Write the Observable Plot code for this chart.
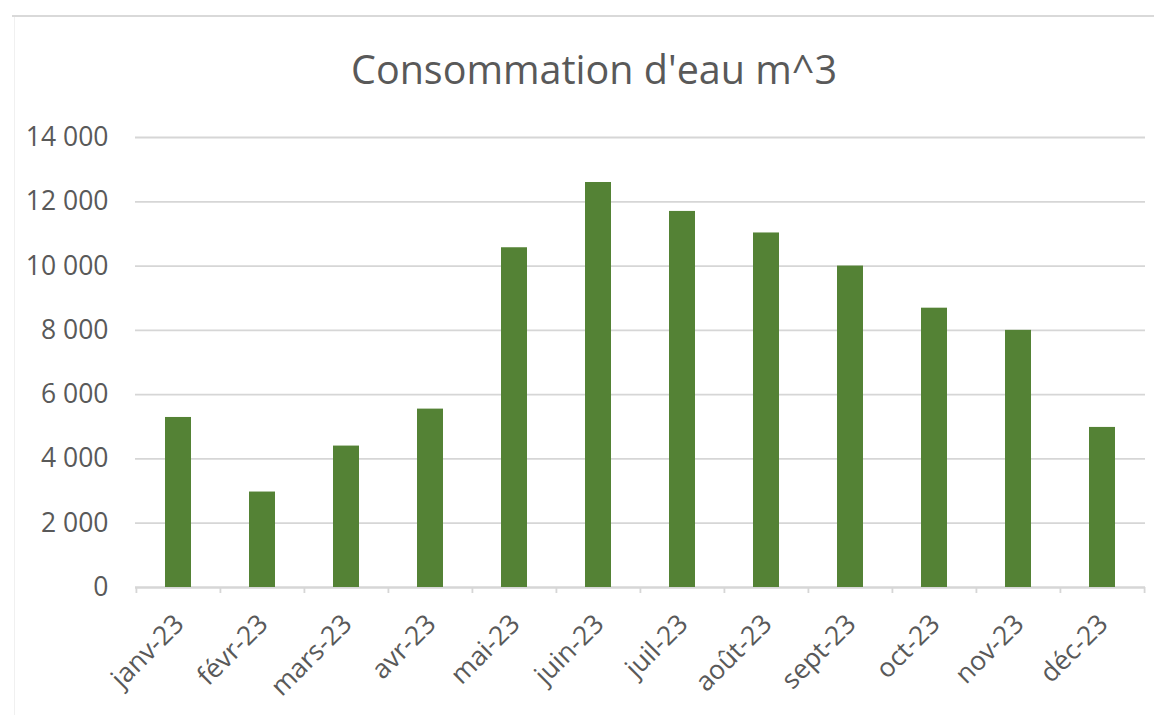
<!DOCTYPE html>
<html>
<head>
<meta charset="utf-8">
<script src="https://cdn.jsdelivr.net/npm/d3@7"></script>
<script src="https://cdn.jsdelivr.net/npm/@observablehq/plot@0.6"></script>
<style>
  html, body { margin: 0; padding: 0; background: #ffffff; }
  #wrap { position: relative; width: 1154px; height: 715px; overflow: hidden; background: #fff; }
  #header { position: relative; width: 1154px; height: 110px; }
  #topline { position: absolute; left: 12px; top: 15px; width: 1142px; height: 2px; background: #d9d9d9; }
  #leftline { position: absolute; left: 14px; top: 17px; width: 1px; height: 700px; background: #f0f0f0; z-index: 2; }
  #title { position: absolute; left: 351px; top: 50px; font-family: "Open Sans", sans-serif; font-size: 39.5px; line-height: 39.5px; color: #595959; white-space: nowrap; }
  #chart svg { display: block; }
</style>
</head>
<body>
<div id="wrap">
  <div id="leftline"></div>
  <div id="header">
    <div id="topline"></div>
    <div id="title">Consommation d'eau m^3</div>
  </div>
  <div id="chart"></div>
</div>
<script>
const months = ["janv-23", "févr-23", "mars-23", "avr-23", "mai-23", "juin-23", "juil-23", "août-23", "sept-23", "oct-23", "nov-23", "déc-23"];
const values = [5290, 2970, 4400, 5550, 10570, 12600, 11700, 11030, 10000, 8690, 8000, 4980];
const yTicks = [0, 2000, 4000, 6000, 8000, 10000, 12000, 14000];

const data = months.map((m, i) => ({month: m, value: values[i]}));

const W = 1154, H = 605;
const mL = 135, mR = 9, mT = 27, mB = 128;
const step = (W - mL - mR) / months.length;
const fmt = d => d3.format(",")(d).replace(/,/g, " ");

const plot = Plot.plot({
  width: W,
  height: H,
  marginLeft: mL,
  marginRight: mR,
  marginTop: mT,
  marginBottom: mB,
  style: {background: "white", fontFamily: "'Open Sans', sans-serif", fontSize: "26px", color: "#595959"},
  x: {domain: months, paddingInner: 0.69, paddingOuter: 0.345},
  y: {domain: [0, 14000]},
  marks: [
    Plot.gridY(yTicks, {stroke: "#d6d6d6", strokeOpacity: 1, strokeWidth: 1.8}),
    Plot.axisY(yTicks, {tickSize: 0, tickPadding: 27, tickFormat: fmt, fill: "#595959", fontSize: 26.5, label: null}),
    Plot.axisX({ticks: [], label: null, tickSize: 0}),
    Plot.ruleY([0], {stroke: "#d6d6d6", strokeWidth: 1.8}),
    Plot.ruleX(months, {x: d => d, y1: 0, y2: 0, insetBottom: -6, dx: -step / 2, stroke: "#d6d6d6", strokeWidth: 1.8}),
    Plot.ruleX([months[months.length - 1]], {x: d => d, y1: 0, y2: 0, insetBottom: -6, dx: step / 2, stroke: "#d6d6d6", strokeWidth: 1.8}),
    Plot.barY(data, {x: "month", y: "value", fill: "#548235"}),
    Plot.text(months, {x: d => d, y: 0, text: d => d, rotate: -45, textAnchor: "end", lineAnchor: "bottom", dx: 7, dy: 38, fontSize: 26.5, fill: "#595959"})
  ]
});
document.getElementById("chart").appendChild(plot);
</script>
</body>
</html>
